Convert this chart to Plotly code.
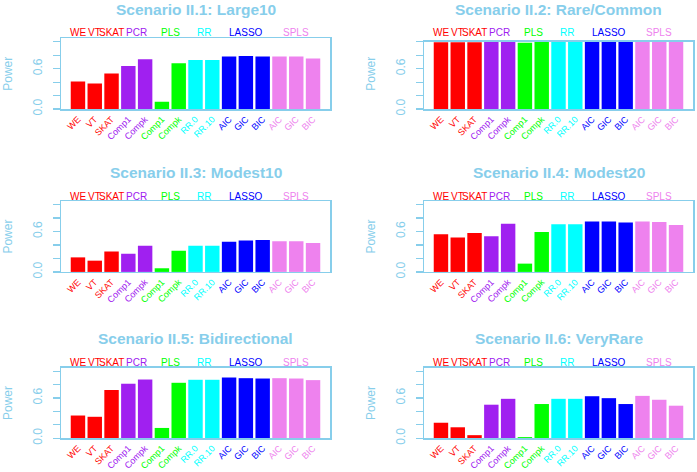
import plotly.graph_objects as go

W, H = 697, 472

methods = ["WE", "VT", "SKAT", "Comp1", "Compk", "Comp1", "Compk", "RR.0", "RR.10",
           "AIC", "GIC", "BIC", "AIC", "GIC", "BIC"]
method_group = [0, 1, 2, 3, 3, 4, 4, 5, 5, 6, 6, 6, 7, 7, 7]
groups = ["WE", "VT", "SKAT", "PCR", "PLS", "RR", "LASSO", "SPLS"]
group_colors = ["#FF0000", "#FF0000", "#FF0000", "#A020F0", "#00FF00", "#00FFFF", "#0000FF", "#EE82EE"]

titles = ["Scenario II.1: Large10", "Scenario II.2: Rare/Common",
          "Scenario II.3: Modest10", "Scenario II.4: Modest20",
          "Scenario II.5: Bidirectional", "Scenario II.6: VeryRare"]

power_large10 = [0.41, 0.38, 0.53, 0.64, 0.74, 0.11, 0.68, 0.73, 0.73, 0.78, 0.79, 0.78, 0.78, 0.78, 0.75]
power_rarecommon = [0.99, 0.99, 0.99, 1.0, 1.0, 0.985, 1.0, 1.0, 1.0, 1.0, 1.0, 1.0, 1.0, 1.0, 1.0]
power_modest10 = [0.216, 0.167, 0.304, 0.27, 0.387, 0.054, 0.314, 0.387, 0.387, 0.45, 0.466, 0.475, 0.456, 0.456, 0.43]
power_modest20 = [0.56, 0.51, 0.58, 0.53, 0.716, 0.123, 0.593, 0.71, 0.71, 0.75, 0.75, 0.735, 0.75, 0.74, 0.696]
power_bidirectional = [0.338, 0.319, 0.72, 0.814, 0.877, 0.152, 0.828, 0.873, 0.873, 0.907, 0.897, 0.892, 0.897, 0.892, 0.868]
power_veryrare = [0.23, 0.162, 0.044, 0.50, 0.588, 0.015, 0.51, 0.588, 0.588, 0.627, 0.598, 0.51, 0.632, 0.574, 0.485]

all_power = [power_large10, power_rarecommon, power_modest10, power_modest20,
             power_bidirectional, power_veryrare]

ytick_vals = [0, 0.2, 0.4, 0.6, 0.8, 1.0]
ytick_text = ["0.0", "", "", "0.6", "", ""]

SKY = "#87CEEB"

col_x = [(61, 330), (424, 693)]
row_y = [(39, 110.7), (204.3, 276), (373.5, 444.7)]
title_y = [9.5, 175, 343.5]
grp_y = [33.3, 199, 367.7]


def px(x):
    return x / W


def py(y):
    return 1 - y / H


fig = go.Figure()
bar_colors = [group_colors[g] for g in method_group]
xpos = list(range(len(methods)))
ticktext = ['<span style="color:%s">%s</span>' % (bar_colors[i], m) for i, m in enumerate(methods)]

annotations = []
for k in range(6):
    r, c = divmod(k, 2)
    n = k + 1
    xa = "x" if n == 1 else "x%d" % n
    ya = "y" if n == 1 else "y%d" % n
    left, right = col_x[c]
    top, bottom = row_y[r]
    ymax = 1.05
    if k == 1:
        top = 42.3
        ymax = 1.0
    fig.add_trace(go.Bar(x=xpos, y=all_power[k], marker=dict(color=bar_colors, line=dict(width=0)),
                         xaxis=xa, yaxis=ya, showlegend=False, hoverinfo="skip"))
    xkey = "xaxis" if n == 1 else "xaxis%d" % n
    ykey = "yaxis" if n == 1 else "yaxis%d" % n
    fig.update_layout(**{
        xkey: dict(domain=[px(left), px(right)], anchor=ya, range=[-1.01, 15.01],
                   tickmode="array", tickvals=xpos, ticktext=ticktext, tickangle=-45,
                   tickfont=dict(size=9, family="Liberation Sans, Arial"),
                   showline=True, mirror=True, linecolor=SKY, linewidth=1.5,
                   showgrid=False, zeroline=False, ticks="", fixedrange=True),
        ykey: dict(domain=[py(bottom), py(top)], anchor=xa, range=[0, ymax],
                   tickmode="array", tickvals=ytick_vals, ticktext=ytick_text,
                   tickangle=-90, ticks="outside", ticklen=7, tickcolor=SKY, tickwidth=1.2,
                   tickfont=dict(size=12, color=SKY, family="Liberation Sans, Arial"),
                   ticklabelstandoff=6,
                   showline=True, mirror=True, linecolor=SKY, linewidth=1.5,
                   showgrid=False, zeroline=False, fixedrange=True),
    })
    annotations.append(dict(text="<b>%s</b>" % titles[k], xref="paper", yref="paper",
                            x=px((left + right) / 2), y=py(title_y[r]), xanchor="center", yanchor="middle",
                            showarrow=False, font=dict(size=15.5, color=SKY, family="Liberation Sans, Arial")))
    annotations.append(dict(text="Power", xref="paper", yref="paper", textangle=-90,
                            x=px(left - 53), y=py((row_y[r][0] + row_y[r][1]) / 2),
                            xanchor="center", yanchor="middle", showarrow=False,
                            font=dict(size=12, color=SKY, family="Liberation Sans, Arial")))
    for g, gname in enumerate(groups):
        idx = [i for i, mg in enumerate(method_group) if mg == g]
        cx = sum(idx) / len(idx)
        annotations.append(dict(text=gname, xref=xa, yref="paper", x=cx, y=py(grp_y[r]),
                                xanchor="center", yanchor="middle", showarrow=False,
                                font=dict(size=10, color=group_colors[g], family="Liberation Sans, Arial")))

fig.update_layout(width=W, height=H, margin=dict(l=0, r=0, t=0, b=0),
                  paper_bgcolor="white", plot_bgcolor="white", bargap=0.14,
                  annotations=annotations)

fig.write_html("out.html", config={"displayModeBar": False, "staticPlot": True},
               post_script="document.body.style.margin='0px';document.body.style.overflow='hidden';")
